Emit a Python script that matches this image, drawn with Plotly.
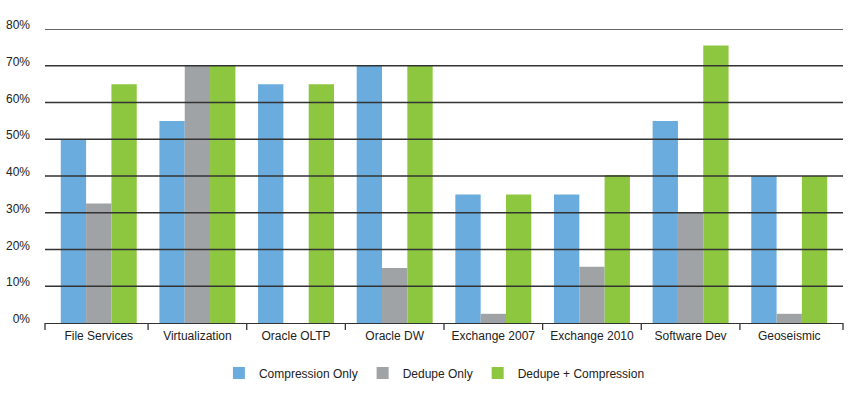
import plotly.graph_objects as go

categories = ["File Services", "Virtualization", "Oracle OLTP", "Oracle DW",
              "Exchange 2007", "Exchange 2010", "Software Dev", "Geoseismic"]
compression_only = [50, 55, 65, 70, 35, 35, 55, 40]
dedupe_only = [32.5, 70, 0, 15, 2.5, 15.3, 30, 2.5]
dedupe_compression = [65, 70, 65, 70, 35, 40.3, 75.5, 40]
y_ticks = [0, 10, 20, 30, 40, 50, 60, 70, 80]
y_tick_labels = [f"{v}%" for v in y_ticks]

series = [
    ("Compression Only", compression_only, "#6AACDE"),
    ("Dedupe Only", dedupe_only, "#A0A3A6"),
    ("Dedupe + Compression", dedupe_compression, "#8DC63F"),
]

fig = go.Figure()
for name, vals, color in series:
    fig.add_trace(go.Bar(x=categories, y=vals, name=name,
                         marker=dict(color=color, line=dict(width=0))))

axis_color = "#333333"
# gridlines drawn over the bars
for v in y_ticks[1:]:
    fig.add_shape(type="line", xref="paper", yref="y", x0=0, x1=1, y0=v, y1=v,
                  line=dict(color=axis_color, width=1.3), layer="above")

tick_len = -7 / 294  # 7px below the axis, in paper units
# separator ticks between categories
for k in range(1, len(categories)):
    fig.add_shape(type="line", xref="x", yref="paper", x0=k - 0.5, x1=k - 0.5,
                  y0=0, y1=tick_len, line=dict(color=axis_color, width=1.3), layer="above")
# end ticks at both ends of the category axis line
for xe in (0, 1):
    fig.add_shape(type="line", xref="paper", yref="paper", x0=xe, x1=xe, y0=0, y1=tick_len,
                  line=dict(color=axis_color, width=1.3), layer="above")

pad = 0.045
font_family = "Liberation Sans, Arial, sans-serif"
fig.update_layout(
    width=850, height=394,
    margin=dict(l=45, r=7, t=29, b=71, autoexpand=False),
    paper_bgcolor="white", plot_bgcolor="white",
    barmode="group", bargap=0.23, bargroupgap=0,
    font=dict(family=font_family, size=12, color="#222222"),
    showlegend=True,
    legend=dict(orientation="h", x=0.488, xanchor="center", y=-0.17, yanchor="middle",
                font=dict(size=12, color="#222222"), traceorder="normal",
                itemwidth=30),
)
fig.update_xaxes(
    range=[-0.5 - pad, len(categories) - 0.5 + pad],
    showgrid=False, showline=True, linecolor=axis_color, linewidth=1.3,
    ticks="outside", tickson="boundaries", ticklen=7, tickcolor="rgba(0,0,0,0)",
    tickfont=dict(size=12, color="#222222"), ticklabelstandoff=1, automargin=False,
)
fig.update_yaxes(
    range=[0, 80], tickvals=y_ticks, ticktext=y_tick_labels,
    showgrid=False, zeroline=False, showline=False, automargin=False,
    tickfont=dict(size=12, color="#222222"), ticklabelshift=-4, ticklabelstandoff=14,
)

fig.write_html("out.html", post_script="document.body.style.margin='0';",
               config={"displayModeBar": False})
